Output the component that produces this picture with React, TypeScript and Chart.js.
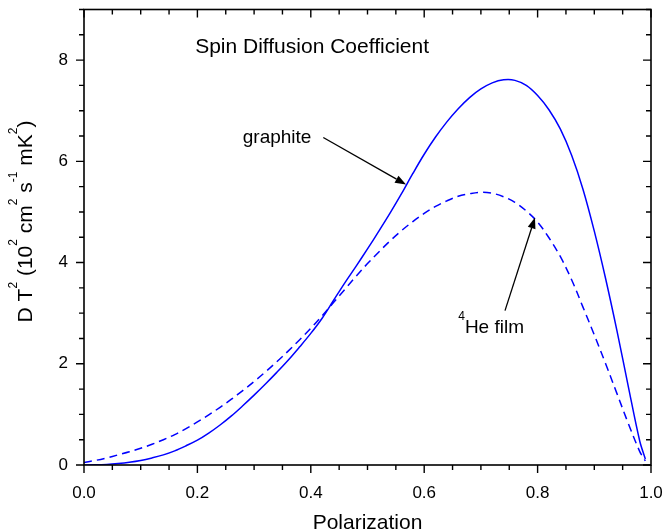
import React, { useEffect, useRef } from "react";
import { Chart, registerables } from "chart.js";

Chart.register(...registerables);

// ---- data ----
const polarization = [
  0, 0.02, 0.04, 0.06, 0.08, 0.1, 0.12, 0.14, 0.16, 0.18, 0.2, 0.22, 0.24, 0.26, 0.28, 0.3,
  0.32, 0.34, 0.36, 0.38, 0.4, 0.42, 0.44, 0.46, 0.48, 0.5, 0.52, 0.54, 0.56, 0.58, 0.6,
  0.62, 0.64, 0.66, 0.68, 0.7, 0.72, 0.74, 0.76, 0.78, 0.8, 0.82, 0.84, 0.86, 0.88, 0.9,
  0.92, 0.94, 0.96, 0.98, 0.99,
];

const graphiteD = [
  0, 0.003, 0.012, 0.03, 0.055, 0.09, 0.14, 0.2, 0.28, 0.38, 0.49, 0.63, 0.79, 0.97, 1.17, 1.38,
  1.6, 1.83, 2.07, 2.33, 2.6, 2.9, 3.25, 3.6, 3.93, 4.27, 4.62, 4.98, 5.36, 5.76, 6.14,
  6.48, 6.78, 7.04, 7.26, 7.43, 7.55, 7.61, 7.6, 7.5, 7.3, 7.02, 6.64, 6.12, 5.45, 4.62,
  3.68, 2.65, 1.55, 0.48, 0.12,
];

const heliumFilmD = [
  0.05, 0.09, 0.14, 0.2, 0.26, 0.33, 0.41, 0.5, 0.6, 0.72, 0.85, 0.99, 1.14, 1.3, 1.47, 1.65,
  1.84, 2.04, 2.25, 2.47, 2.7, 2.95, 3.21, 3.47, 3.73, 3.98, 4.21, 4.43, 4.63, 4.81, 4.97,
  5.11, 5.22, 5.31, 5.36, 5.39, 5.37, 5.3, 5.19, 5.02, 4.8, 4.49, 4.12, 3.66, 3.12, 2.57,
  2.0, 1.41, 0.82, 0.27, 0.08,
];

const xMin = 0;
const xMax = 1;
const yMin = 0;
const yMax = 9;
const xMajorStep = 0.2;
const xMinorStep = 0.05;
const yMajorStep = 2;
const yMinorStep = 0.5;

// annotation anchors in data units
const chartTitleText = "Spin Diffusion Coefficient";
const chartTitleAt = [0.196, 8.14];
const graphiteText = "graphite";
const graphiteTextAt = [0.28, 6.37];
const graphiteArrowFrom = [0.422, 6.47];
const graphiteArrowTo = [0.568, 5.54];
const heliumSup = "4";
const heliumText = "He film";
const heliumTextAt = [0.66, 2.6];
const heliumArrowFrom = [0.7425, 3.05];
const heliumArrowTo = [0.7954, 4.89];

const xTitle = "Polarization";
const yTitleParts: [string, boolean][] = [
  ["D T", false],
  ["2", true],
  [" (10", false],
  ["2", true],
  [" cm", false],
  ["2", true],
  [" s", false],
  ["-1", true],
  [" mK", false],
  ["2", true],
  [")", false],
];

const FONT = '"Liberation Sans", Arial, Helvetica, sans-serif';
const BLUE = "#0000ff";

function drawArrow(ctx: CanvasRenderingContext2D, x1: number, y1: number, x2: number, y2: number) {
  const ang = Math.atan2(y2 - y1, x2 - x1);
  const headLen = 11;
  const headHalf = 4;
  const bx = x2 - headLen * Math.cos(ang);
  const by = y2 - headLen * Math.sin(ang);
  ctx.beginPath();
  ctx.moveTo(x1, y1);
  ctx.lineTo(bx, by);
  ctx.lineWidth = 1.3;
  ctx.strokeStyle = "#000";
  ctx.stroke();
  ctx.beginPath();
  ctx.moveTo(x2, y2);
  ctx.lineTo(bx + headHalf * Math.sin(ang), by - headHalf * Math.cos(ang));
  ctx.lineTo(bx - headHalf * Math.sin(ang), by + headHalf * Math.cos(ang));
  ctx.closePath();
  ctx.fillStyle = "#000";
  ctx.fill();
}

const framePlugin = {
  id: "originFrame",
  afterDatasetsDraw(chart: any) {
    const ctx: CanvasRenderingContext2D = chart.ctx;
    const { left, right, top, bottom } = chart.chartArea;
    const xs = chart.scales.x;
    const ys = chart.scales.y;
    ctx.save();
    // frame
    ctx.strokeStyle = "#000";
    ctx.lineWidth = 1.6;
    ctx.strokeRect(left, top, right - left, bottom - top);
    // x ticks
    ctx.lineWidth = 1.4;
    const nx = Math.round((xMax - xMin) / xMinorStep);
    const perMajorX = Math.round(xMajorStep / xMinorStep);
    for (let i = 0; i <= nx; i++) {
      const px = xs.getPixelForValue(xMin + i * xMinorStep);
      const len = i % perMajorX === 0 ? 8 : 5;
      ctx.beginPath();
      ctx.moveTo(px, bottom);
      ctx.lineTo(px, bottom + len);
      ctx.moveTo(px, top);
      ctx.lineTo(px, top + len);
      ctx.stroke();
    }
    const ny = Math.round((yMax - yMin) / yMinorStep);
    const perMajorY = Math.round(yMajorStep / yMinorStep);
    for (let i = 0; i <= ny; i++) {
      const py = ys.getPixelForValue(yMin + i * yMinorStep);
      const len = i % perMajorY === 0 ? 8 : 5;
      ctx.beginPath();
      ctx.moveTo(left, py);
      ctx.lineTo(left - len, py);
      ctx.moveTo(right, py);
      ctx.lineTo(right - len, py);
      ctx.stroke();
    }

    ctx.fillStyle = "#000";
    ctx.textBaseline = "alphabetic";
    // chart title inside plot
    ctx.font = `21px ${FONT}`;
    ctx.textAlign = "left";
    ctx.fillText(chartTitleText, xs.getPixelForValue(chartTitleAt[0]), ys.getPixelForValue(chartTitleAt[1]));

    // graphite label + arrow
    ctx.font = `19px ${FONT}`;
    ctx.fillText(graphiteText, xs.getPixelForValue(graphiteTextAt[0]), ys.getPixelForValue(graphiteTextAt[1]));
    drawArrow(
      ctx,
      xs.getPixelForValue(graphiteArrowFrom[0]),
      ys.getPixelForValue(graphiteArrowFrom[1]),
      xs.getPixelForValue(graphiteArrowTo[0]),
      ys.getPixelForValue(graphiteArrowTo[1])
    );

    // 4He film label + arrow
    const hx = xs.getPixelForValue(heliumTextAt[0]);
    const hy = ys.getPixelForValue(heliumTextAt[1]);
    ctx.font = `12px ${FONT}`;
    ctx.fillText(heliumSup, hx, hy - 13.5);
    const supW = ctx.measureText(heliumSup).width;
    ctx.font = `19px ${FONT}`;
    ctx.fillText(heliumText, hx + supW, hy);
    drawArrow(
      ctx,
      xs.getPixelForValue(heliumArrowFrom[0]),
      ys.getPixelForValue(heliumArrowFrom[1]),
      xs.getPixelForValue(heliumArrowTo[0]),
      ys.getPixelForValue(heliumArrowTo[1])
    );

    // x axis title
    ctx.font = `21px ${FONT}`;
    ctx.textAlign = "center";
    ctx.fillText(xTitle, (left + right) / 2, 529);

    // y axis title (rotated, with superscripts)
    ctx.textAlign = "left";
    const mainFont = `21px ${FONT}`;
    const supFont = `12px ${FONT}`;
    let total = 0;
    for (const [t, sup] of yTitleParts) {
      ctx.font = sup ? supFont : mainFont;
      total += ctx.measureText(t).width;
    }
    ctx.translate(31.5, 221.5);
    ctx.rotate(-Math.PI / 2);
    let cx = -total / 2;
    for (const [t, sup] of yTitleParts) {
      ctx.font = sup ? supFont : mainFont;
      ctx.fillText(t, cx, sup ? -15 : 0);
      cx += ctx.measureText(t).width;
    }
    ctx.restore();
  },
};

export default function App() {
  const canvasRef = useRef<HTMLCanvasElement | null>(null);

  useEffect(() => {
    document.body.style.margin = "0";
    const canvas = canvasRef.current;
    if (!canvas) return;
    const chart = new Chart(canvas, {
      type: "line",
      data: {
        datasets: [
          {
            label: "graphite",
            data: polarization.map((x, i) => ({ x, y: graphiteD[i] })),
            borderColor: BLUE,
            borderWidth: 1.5,
            pointRadius: 0,
            fill: false,
            tension: 0.35,
          },
          {
            label: "4He film",
            data: polarization.map((x, i) => ({ x, y: heliumFilmD[i] })),
            borderColor: BLUE,
            borderWidth: 1.5,
            borderDash: [8, 5],
            pointRadius: 0,
            fill: false,
            tension: 0.35,
          },
        ],
      },
      options: {
        responsive: false,
        devicePixelRatio: 1,
        animation: false,
        events: [],
        layout: { padding: { top: 9.5, right: 12, left: 0, bottom: 0 } },
        plugins: {
          legend: { display: false },
          tooltip: { enabled: false },
          title: { display: false },
        },
        scales: {
          x: {
            type: "linear",
            min: xMin,
            max: xMax,
            grid: { display: false, drawTicks: false },
            border: { display: false },
            afterFit: (s: any) => {
              s.height = 67;
              s.paddingLeft = 0;
              s.paddingRight = 0;
            },
            ticks: {
              stepSize: xMajorStep,
              autoSkip: false,
              maxRotation: 0,
              padding: 18,
              color: "#000",
              font: { family: FONT, size: 17 },
              callback: (v: any) => {
                const n = Number(v);
                return Math.abs(n / xMajorStep - Math.round(n / xMajorStep)) < 1e-6 ? n.toFixed(1) : "";
              },
            },
          },
          y: {
            type: "linear",
            min: yMin,
            max: yMax,
            grid: { display: false, drawTicks: false },
            border: { display: false },
            afterFit: (s: any) => {
              s.width = 84;
              s.paddingTop = 0;
              s.paddingBottom = 0;
            },
            ticks: {
              stepSize: yMajorStep,
              autoSkip: false,
              padding: 16,
              color: "#000",
              font: { family: FONT, size: 17 },
              callback: (v: any) => {
                const n = Number(v);
                return n % yMajorStep === 0 ? String(n) : "";
              },
            },
          },
        },
      },
      plugins: [framePlugin],
    } as any);
    return () => chart.destroy();
  }, []);

  return (
    <div style={{ width: 663, height: 532 }}>
      <canvas ref={canvasRef} width={663} height={532} style={{ display: "block" }} />
    </div>
  );
}
